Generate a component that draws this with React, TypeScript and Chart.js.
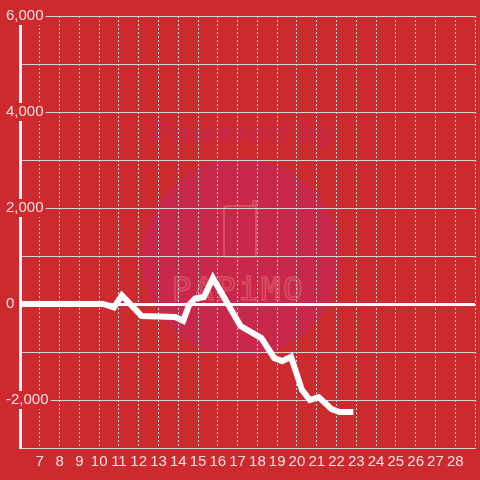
import { useEffect, useRef } from 'react';
import { Chart, registerables } from 'chart.js';

Chart.register(...registerables);

// data: x position (hour-like axis), y value
const xValues = [5.5, 10.2, 10.75, 11.15, 12.15, 13.85, 14.25, 14.55, 14.85, 15.3, 15.75, 17.15, 18.2, 18.85, 19.25, 19.7, 20.25, 20.65, 21.1, 21.75, 22.15, 22.85];
const yValues = [0, 0, -70, 180, -250, -270, -350, -20, 115, 145, 540, -460, -710, -1125, -1190, -1100, -1790, -2000, -1940, -2190, -2250, -2250];

const xTickLabels = ['7', '8', '9', '10', '11', '12', '13', '14', '15', '16', '17', '18', '19', '20', '21', '22', '23', '24', '25', '26', '27', '28'];
const yTickLabels = ['6,000', '4,000', '2,000', '0', '-2,000'];
const yTickValues = [6000, 4000, 2000, 0, -2000];

const BG = '#cc2a2f';

const bgPlugin = {
  id: 'bgWatermark',
  beforeDraw(chart: any) {
    const { ctx, width, height } = chart;
    ctx.save();
    ctx.fillStyle = BG;
    ctx.fillRect(0, 0, width, height);
    // watermark circle
    ctx.fillStyle = '#c9284a';
    ctx.beginPath();
    ctx.arc(241, 258, 99, 0, Math.PI * 2);
    ctx.fill();
    // "Powered by"
    ctx.fillStyle = '#c92845';
    ctx.font = "italic bold 28px 'DejaVu Sans'";
    ctx.textAlign = 'center';
    ctx.textBaseline = 'alphabetic';
    ctx.fillText('Powered by', 243, 143);
    // logo
    ctx.strokeStyle = 'rgba(232,110,118,0.55)';
    ctx.lineWidth = 2;
    ctx.beginPath();
    ctx.roundRect(224, 206, 32, 51, 3);
    ctx.stroke();
    ctx.beginPath();
    ctx.moveTo(253, 206);
    ctx.lineTo(253, 201);
    ctx.lineTo(256, 201);
    ctx.lineTo(256, 206);
    ctx.stroke();
    // PAPiMO
    ctx.lineWidth = 1.6;
    ctx.font = "32px 'DejaVu Sans Mono'";
    ctx.textAlign = 'left';
    (ctx as any).letterSpacing = '3px';
    ctx.strokeText('PAPiMO', 172, 300, 134);
    ctx.restore();
  },
};

export default function App() {
  const ref = useRef<HTMLCanvasElement | null>(null);

  useEffect(() => {
    if (!ref.current) return;
    Chart.defaults.font.family = "'Liberation Sans', Arial, sans-serif";
    Chart.defaults.font.size = 15;
    const points = xValues.map((x, i) => ({ x, y: yValues[i] }));
    const chart = new Chart(ref.current, {
      type: 'line',
      data: {
        datasets: [
          {
            data: points,
            borderColor: '#ffffff',
            borderWidth: 6,
            pointRadius: 0,
            tension: 0,
            fill: false,
          },
        ],
      },
      options: {
        animation: false,
        responsive: false,
        layout: { padding: { top: 16, left: 0, right: 0, bottom: 0 } },
        plugins: { legend: { display: false }, tooltip: { enabled: false } },
        scales: {
          x: {
            type: 'linear',
            min: 6,
            max: 29,
            afterFit: (s: any) => {
              s.height = 32;
            },
            grid: { color: '#d6d6d6', lineWidth: 1, drawTicks: false },
            border: { color: '#d6d6d6', width: 1, dash: [2, 2] },
            ticks: {
              stepSize: 1,
              autoSkip: false,
              maxRotation: 0,
              padding: 5,
              color: 'rgba(255,255,255,0.85)',
              font: { size: 15 },
              callback: (v: any) => {
                const s = String(v);
                return xTickLabels.includes(s) ? s : '';
              },
            },
          },
          y: {
            type: 'linear',
            min: -3000,
            max: 6000,
            afterFit: (s: any) => {
              s.width = 20;
            },
            grid: {
              color: (c: any) => (c.tick && c.tick.value === 0 ? '#ffffff' : '#d6d6d6'),
              lineWidth: (c: any) => (c.tick && c.tick.value === 0 ? 3 : 1),
              drawTicks: false,
            },
            border: { color: '#f2f2f2', width: 3 },
            ticks: {
              stepSize: 1000,
              mirror: true,
              padding: -14,
              color: 'rgba(255,255,255,0.85)',
              font: { size: 15 },
              showLabelBackdrop: true,
              backdropColor: BG,
              backdropPadding: { x: 2, y: 0, top: 0, bottom: 0, left: 2, right: 2 },
              callback: (v: any) => {
                const i = yTickValues.indexOf(Number(v));
                return i >= 0 ? yTickLabels[i] : '';
              },
            },
          },
        },
      },
      plugins: [bgPlugin],
    } as any);
    return () => chart.destroy();
  }, []);

  return (
    <div style={{ position: 'absolute', left: 0, top: 0, width: 480, height: 480 }}>
      <canvas ref={ref} width={480} height={480} />
    </div>
  );
}
